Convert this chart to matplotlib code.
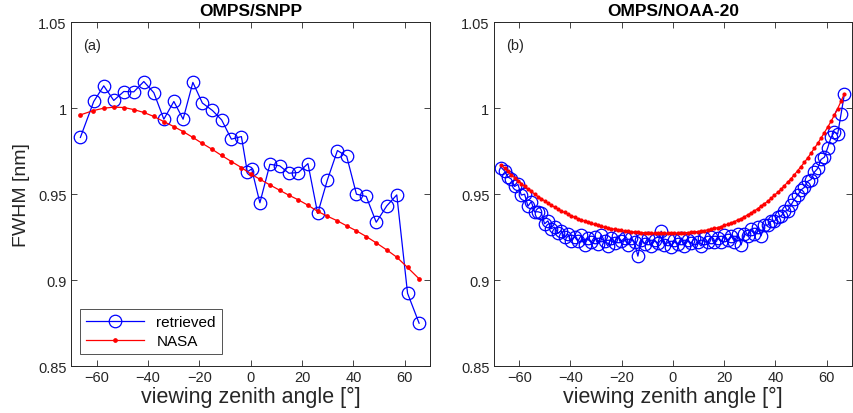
import matplotlib
matplotlib.use("Agg")
import matplotlib.pyplot as plt

plt.rcParams["font.family"] = ["Liberation Sans", "DejaVu Sans"]

# ---- OMPS/SNPP (left panel) ----
snpp_vza_retr = [-66.3, -61.1, -57.2, -53.3, -49.4, -45.5, -41.6, -37.7, -33.8, -29.9,
                 -26.3, -22.5, -18.8, -14.9, -11.3, -7.5, -3.6, -1.3, 0.4, 3.6,
                 7.5, 11.3, 14.9, 18.6, 22.3, 26.1, 29.9, 33.8, 37.4, 41.2,
                 45.0, 48.9, 53.0, 56.9, 61.1, 65.6]
snpp_fwhm_retr = [0.983, 1.0039, 1.013, 1.0045, 1.0097, 1.0095, 1.0155, 1.009, 0.9936, 1.0039,
                  0.9936, 1.015, 1.003, 0.9987, 0.9932, 0.982, 0.9835, 0.963, 0.9647, 0.945,
                  0.9674, 0.9665, 0.9622, 0.9626, 0.9678, 0.9388, 0.9584, 0.9754, 0.972, 0.950,
                  0.9487, 0.9337, 0.9432, 0.9496, 0.8924, 0.875]

snpp_vza_nasa = [-66.3, -61.3, -57.2, -53.3, -49.4, -45.5, -41.6, -37.7, -33.8, -29.9,
                 -26.3, -22.5, -18.8, -14.9, -11.3, -7.5, -3.6, 0.0, 3.6, 7.5,
                 11.3, 14.9, 18.6, 22.3, 26.1, 29.9, 33.8, 37.4, 41.2, 45.0,
                 48.9, 53.0, 56.9, 61.1, 65.6]
snpp_fwhm_nasa = [0.9961, 0.9986, 1.0000, 1.0006, 1.0004, 0.9992, 0.9975, 0.9952, 0.9922, 0.9893,
                  0.9864, 0.9830, 0.9795, 0.9760, 0.9725, 0.9690, 0.9655, 0.9618, 0.9587, 0.9554,
                  0.9523, 0.9494, 0.9467, 0.9436, 0.9400, 0.9372, 0.9345, 0.9316, 0.9287, 0.9254,
                  0.9217, 0.9176, 0.9134, 0.9074, 0.9008]

# ---- OMPS/NOAA-20 (right panel) ----
n20_vza = [-67.0, -65.7, -64.4, -63.1, -61.8, -60.5, -59.2, -57.9, -56.6, -55.3,
           -54.0, -52.7, -51.4, -50.1, -48.8, -47.5, -46.2, -44.9, -43.6, -42.3,
           -41.0, -39.7, -38.4, -37.1, -35.8, -34.5, -33.2, -31.9, -30.6, -29.3,
           -28.0, -26.7, -25.4, -24.1, -22.8, -21.5, -20.2, -18.9, -17.6, -16.3,
           -15.0, -13.7, -12.4, -11.1, -9.8, -8.5, -7.2, -5.9, -4.6, -3.3,
           -2.0, -0.7, 0.6, 1.9, 3.2, 4.5, 5.8, 7.1, 8.4, 9.7,
           11.0, 12.3, 13.6, 14.9, 16.2, 17.5, 18.8, 20.1, 21.4, 22.7,
           24.0, 25.3, 26.6, 27.9, 29.2, 30.5, 31.8, 33.1, 34.4, 35.7,
           37.0, 38.3, 39.6, 40.9, 42.2, 43.5, 44.8, 46.1, 47.4, 48.7,
           50.0, 51.3, 52.6, 53.9, 55.2, 56.5, 57.8, 59.1, 60.4, 61.7,
           63.0, 64.3, 65.6, 66.9]
n20_fwhm_retr = [0.9655, 0.9635, 0.9600, 0.9588, 0.9545, 0.9557, 0.9495, 0.9500, 0.9430, 0.9457,
                 0.9397, 0.9398, 0.9392, 0.9328, 0.9345, 0.9300, 0.9308, 0.9273, 0.9288, 0.9249,
                 0.9268, 0.9229, 0.9254, 0.9228, 0.9260, 0.9206, 0.9244, 0.9222, 0.9251, 0.9211,
                 0.9264, 0.9227, 0.9199, 0.9247, 0.9218, 0.9256, 0.9228, 0.9244, 0.9205, 0.9248,
                 0.9221, 0.9140, 0.9233, 0.9211, 0.9247, 0.9197, 0.9234, 0.9214, 0.9285, 0.9203,
                 0.9237, 0.9195, 0.9232, 0.9208, 0.9246, 0.9199, 0.9231, 0.9216, 0.9245, 0.9222,
                 0.9199, 0.9245, 0.9223, 0.9253, 0.9223, 0.9245, 0.9223, 0.9261, 0.9232, 0.9259,
                 0.9225, 0.9269, 0.9205, 0.9271, 0.9257, 0.9296, 0.9269, 0.9309, 0.9258, 0.9321,
                 0.9320, 0.9343, 0.9342, 0.9370, 0.9372, 0.9401, 0.9405, 0.9438, 0.9470, 0.9495,
                 0.9525, 0.9540, 0.9575, 0.9585, 0.9628, 0.9650, 0.9702, 0.9715, 0.9770, 0.9830,
                 0.9862, 0.9850, 0.9965, 1.0080]
n20_fwhm_nasa = [0.9670, 0.9651, 0.9632, 0.9612, 0.9596, 0.9579, 0.9562, 0.9546, 0.9531, 0.9516,
                 0.9501, 0.9486, 0.9474, 0.9461, 0.9448, 0.9436, 0.9425, 0.9414, 0.9403, 0.9394,
                 0.9384, 0.9375, 0.9366, 0.9358, 0.9351, 0.9344, 0.9336, 0.9330, 0.9324, 0.9319,
                 0.9313, 0.9308, 0.9304, 0.9300, 0.9296, 0.9293, 0.9289, 0.9286, 0.9284, 0.9282,
                 0.9280, 0.9278, 0.9277, 0.9276, 0.9275, 0.9274, 0.9273, 0.9273, 0.9273, 0.9273,
                 0.9273, 0.9273, 0.9273, 0.9274, 0.9275, 0.9276, 0.9277, 0.9278, 0.9281, 0.9283,
                 0.9286, 0.9288, 0.9293, 0.9297, 0.9301, 0.9306, 0.9312, 0.9319, 0.9325, 0.9332,
                 0.9341, 0.9350, 0.9358, 0.9369, 0.9380, 0.9391, 0.9403, 0.9416, 0.9431, 0.9445,
                 0.9459, 0.9476, 0.9494, 0.9511, 0.9529, 0.9550, 0.9570, 0.9591, 0.9613, 0.9637,
                 0.9661, 0.9685, 0.9711, 0.9739, 0.9767, 0.9795, 0.9826, 0.9858, 0.9890, 0.9923,
                 0.9960, 0.9998, 1.0040, 1.0085]

x_ticks = [-60, -40, -20, 0, 20, 40, 60]
y_ticks = [0.85, 0.9, 0.95, 1.0, 1.05]
y_tick_labels = ["0.85", "0.9", "0.95", "1", "1.05"]

AX_COLOR = "#262626"


def style_axes(ax, title, tag):
    ax.set_xlim(-70, 70)
    ax.set_ylim(0.85, 1.05)
    ax.set_xticks(x_ticks)
    ax.set_yticks(y_ticks)
    ax.set_yticklabels(y_tick_labels)
    ax.tick_params(direction="in", top=True, right=True, length=4, width=0.6,
                   colors=AX_COLOR, labelsize=10.5, pad=3)
    for s in ax.spines.values():
        s.set_color(AX_COLOR)
        s.set_linewidth(0.7)
    ax.set_xlabel("viewing zenith angle [°]", fontsize=15.5, color=AX_COLOR, labelpad=1)
    ax.set_title(title, fontsize=12.5, fontweight="bold", pad=5)
    ax.text(0.035, 0.955, tag, transform=ax.transAxes, fontsize=10.5,
            ha="left", va="top", color=AX_COLOR)


fig = plt.figure(figsize=(8.54, 4.14), dpi=100)
ax1 = fig.add_axes([0.083, 0.113, 0.421, 0.831])
ax2 = fig.add_axes([0.578, 0.113, 0.420, 0.831])

ax1.plot(snpp_vza_retr, snpp_fwhm_retr, color="blue", lw=0.9, marker="o",
         ms=9, mfc="none", mew=0.9, label="retrieved")
ax1.plot(snpp_vza_nasa, snpp_fwhm_nasa, color="red", lw=0.9, marker="o",
         ms=2.4, mfc="red", mec="red", label="NASA")
style_axes(ax1, "OMPS/SNPP", "(a)")
ax1.set_ylabel("FWHM [nm]", fontsize=14, color=AX_COLOR, labelpad=6)
leg = ax1.legend(loc="lower left", fontsize=11, frameon=True, fancybox=False,
                 handlelength=3.8, borderpad=0.4, labelspacing=0.3,
                 bbox_to_anchor=(0.025, 0.035), borderaxespad=0)
leg.get_frame().set_edgecolor(AX_COLOR)
leg.get_frame().set_linewidth(0.7)

ax2.plot(n20_vza, n20_fwhm_retr, color="blue", lw=0.9, marker="o",
         ms=9, mfc="none", mew=0.9)
ax2.plot(n20_vza, n20_fwhm_nasa, color="red", lw=0.9, marker="o",
         ms=2.0, mfc="red", mec="red")
style_axes(ax2, "OMPS/NOAA-20", "(b)")

fig.savefig("out.png", dpi=100)
